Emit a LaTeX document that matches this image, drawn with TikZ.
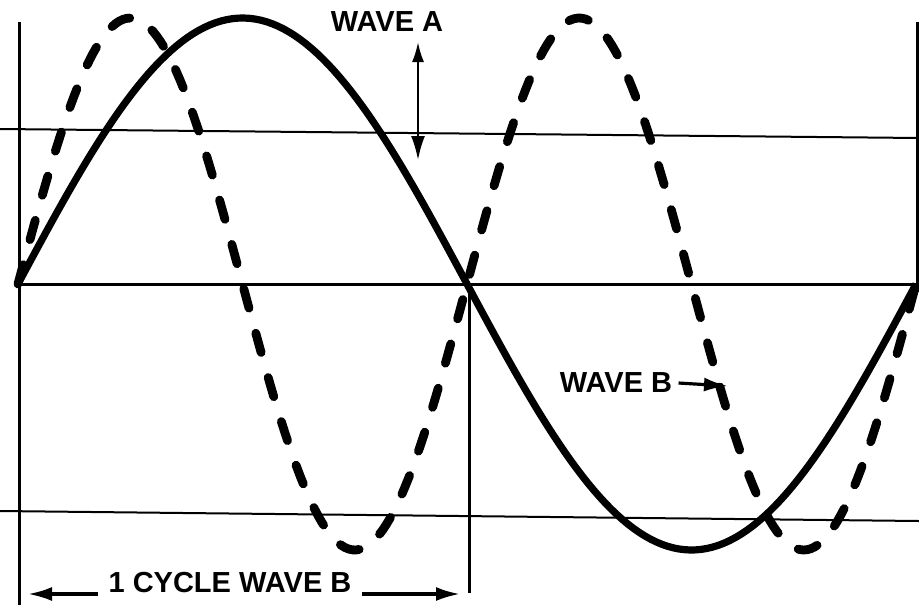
\documentclass[tikz,border=0pt]{standalone}
\usepackage{fontspec}
\setmainfont{Liberation Sans}
\usepackage{tikz}
\usetikzlibrary{positioning,arrows.meta}

\tikzset{
  wavelabel/.style={font=\fontsize{14.5}{16}\selectfont\bfseries, inner sep=0pt},
  guide/.style={line width=1pt},
  frame/.style={line width=1.5pt},
  wavea/.style={line width=3.6pt, line join=round},
  waveb/.style={line width=4.4pt, line cap=round, dash pattern=on 10pt off 13pt},
  pointer/.style={line width=1.6pt, -{Latex[length=12pt,width=7pt]}},
}

\begin{document}
\begin{tikzpicture}[x=0.5pt, y=-0.5pt]
  \useasboundingbox (0,0) rectangle (919,605);
  \def\xo{18}
  \def\yo{284}
  \def\amp{266}
  \def\per{898}
  % guide lines and frame
  \draw[guide] (0,129) -- (919,138);
  \draw[guide] (0,511) -- (919,521);
  \draw[frame] (\xo,\yo) -- (919,\yo);
  \draw[frame] (19,22) -- (19,605);
  \draw[frame] (469,\yo) -- (469,593);
  \draw[frame] (917,22) -- (917,292);
  % the two waves
  \draw[wavea] plot[domain=0:\per, samples=160] ({\xo+\x}, {\yo-\amp*sin(\x/\per*360)});
  \draw[waveb] plot[domain=0:\per, samples=240] ({\xo+\x}, {\yo-\amp*sin(2*\x/\per*360)});
  % labels
  \node[wavelabel] (wa) at (387,22) {WAVE A};
  \coordinate (watop) at (418,42);
  \coordinate (wabot) at (418,160);
  \draw[line width=1.1pt, {Latex[length=10pt,width=6pt]}-{Latex[length=12pt,width=7pt]}] (watop) -- (wabot);
  \node[wavelabel] (wb) at (616,383) {WAVE B};
  \coordinate (wbtip) at (728,386);
  \draw[pointer] ([xshift=3pt]wb.east) -- (wbtip);
  \node[wavelabel, anchor=base] (cyc) at (230,592) {1 CYCLE WAVE B};
  \coordinate (cycl) at (28,594);
  \coordinate (cycr) at (460,594);
  \draw[pointer] ([xshift=-5pt,yshift=-1pt]cyc.base west) -- (cycl);
  \draw[pointer] ([xshift=5pt,yshift=-1pt]cyc.base east) -- (cycr);
\end{tikzpicture}
\end{document}
